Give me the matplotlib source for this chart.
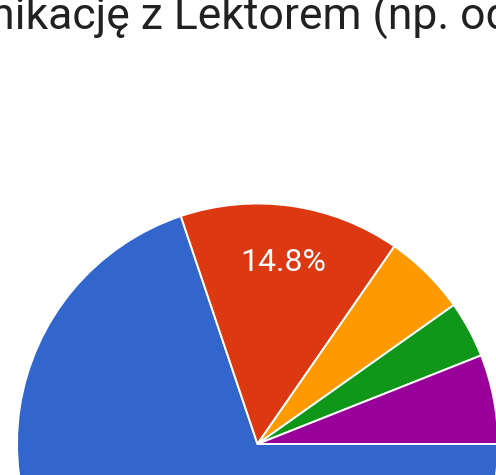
"""Cropped Google Forms style pie chart (answer shares)."""

import matplotlib

matplotlib.use("Agg")
import matplotlib.pyplot as plt


TITLE = "nikację z Lektorem (np. od"
SHARES = [69.8, 14.8, 5.55, 3.8, 6.0]
COLORS = ["#3366cc", "#dc3912", "#ff9900", "#109618", "#990099"]

W, H = 496, 475
CENTER = (257.5, H - 444)
RADIUS = 240.5


def main():
    plt.rcParams["font.family"] = ["Roboto", "DejaVu Sans"]

    fig = plt.figure(figsize=(W / 100, H / 100), dpi=100)
    ax = fig.add_axes([0, 0, 1, 1])

    wedges, _, autotexts = ax.pie(
        SHARES,
        colors=COLORS,
        center=CENTER,
        radius=RADIUS,
        startangle=0,
        counterclock=False,
        autopct=lambda p: f"{p:.1f}%" if p > 10 else "",
        pctdistance=0.763,
        wedgeprops={"edgecolor": "white", "linewidth": 1.4},
        textprops={"color": "white", "fontsize": 23},
        frame=True,
    )
    # labels that would land below the crop are not shown
    for t in autotexts:
        if t.get_position()[1] < 0:
            t.set_visible(False)

    ax.set_xlim(0, W)
    ax.set_ylim(0, H)
    ax.axis("off")

    ax.text(-10, H - 30, TITLE, fontsize=32, color="#212121",
            ha="left", va="baseline")

    fig.savefig("out.png", dpi=100)
    plt.close(fig)


if __name__ == "__main__":
    main()
